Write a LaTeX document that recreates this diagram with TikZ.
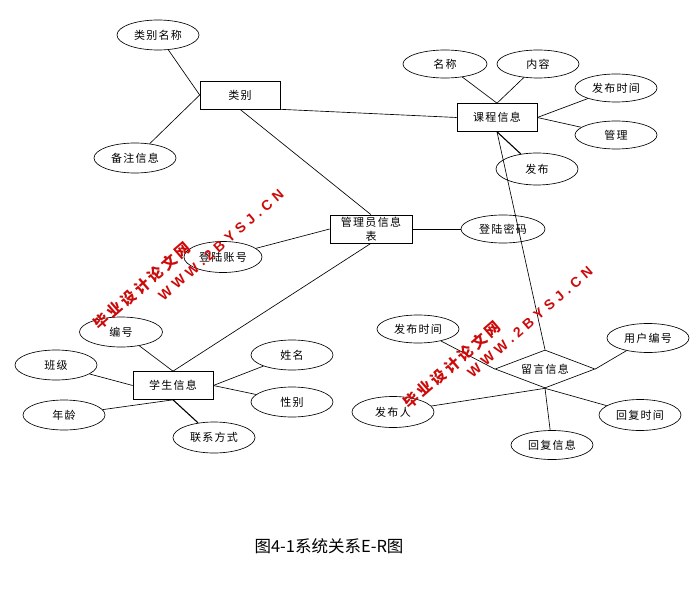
\documentclass[tikz,border=0pt]{standalone}
\usepackage{fontspec}
\setmainfont{Liberation Serif}
\newfontfamily\cjk[LetterSpace=12]{Noto Sans CJK SC}
\newfontfamily\capfont{Noto Sans CJK SC}
\newfontfamily\wmcn[LetterSpace=20]{Noto Sans CJK SC}
\newfontfamily\wmen[LetterSpace=32]{Liberation Sans}
\usetikzlibrary{shapes.geometric}
\definecolor{wmred}{RGB}{204,10,10}
\begin{document}
\begin{tikzpicture}[x=1pt,y=-1pt,line width=0.65pt,
  lbl/.style={font=\cjk\fontsize{11}{14}\selectfont},
  attr/.style={lbl,ellipse,draw,minimum width=82pt,minimum height=30pt,inner sep=0pt},
  ent/.style={lbl,rectangle,draw,minimum width=80pt,minimum height=28pt,inner sep=1pt,align=center},
  rel/.style={lbl,diamond,draw,aspect=2.6,minimum width=100pt,minimum height=38pt,inner sep=0pt},
  thick link/.style={line width=1.1pt},
  wm/.style={text=wmred,rotate=41,inner sep=0pt}]
\useasboundingbox (0,0) rectangle (698,596);
% entities
\node[ent] (lb) at (240,95) {类别};
\node[ent] (kc) at (497,117.5) {课程信息};
\node[ent,minimum width=82pt] (gl) at (371,229) {管理员信息\\表};
\node[ent] (xs) at (173,385.5) {学生信息};
\node[rel] (ly) at (545,369) {留言信息};
% attributes
\node[attr] (lbmc) at (158,35) {类别名称};
\node[attr] (bzxx) at (135,158) {备注信息};
\node[attr,minimum height=28pt,minimum width=84pt] (mc) at (445,64) {名称};
\node[attr,minimum height=28pt] (nr) at (538,64) {内容};
\node[attr,minimum height=28pt] (fbsj) at (616,88) {发布时间};
\node[attr,minimum height=28pt] (gli) at (616,135) {管理};
\node[attr,minimum height=32pt] (fb) at (537,169) {发布};
\node[attr,minimum width=84pt,minimum height=28pt] (dlmm) at (503,229) {登陆密码};
\node[attr,minimum width=78pt,minimum height=31pt] (dlzh) at (223,257) {登陆账号};
\node[attr,minimum width=83pt] (bh) at (121,332) {编号};
\node[attr] (bj) at (56,365) {班级};
\node[attr] (nl) at (64,415) {年龄};
\node[attr,minimum height=31pt] (lxfs) at (214,437.5) {联系方式};
\node[attr] (xm) at (292,355) {姓名};
\node[attr] (xb) at (292,402) {性别};
\node[attr,minimum height=28pt] (fbsj2) at (418,329) {发布时间};
\node[attr,minimum height=29pt] (yhbh) at (648,338) {用户编号};
\node[attr,minimum height=31pt] (fbr) at (393,412) {发布人};
\node[attr,minimum height=31pt] (hfsj) at (640,415) {回复时间};
\node[attr,minimum height=29pt] (hfxx) at (552,445) {回复信息};
% connectors
\draw (lbmc) -- (lb.west);
\draw (bzxx) -- (lb.west);
\draw (lb.south east) -- (kc.west);
\draw (lb.south) -- (gl.north);
\draw (mc) -- (kc.north);
\draw (nr) -- (kc.north);
\draw (fbsj) -- (kc.east);
\draw (gli) -- (kc.east);
\draw[thick link] (kc.south) -- (fb);
\draw (kc.south) -- (ly.north);
\draw (gl.east) -- (dlmm);
\draw (gl.west) -- (dlzh);
\draw (gl.south) -- (xs.north);
\draw (bh) -- (xs.north);
\draw (bj) -- (xs.west);
\draw (nl) -- (xs.south);
\draw[thick link] (lxfs) -- (xs.south);
\draw (xm) -- (xs.east);
\draw (xb) -- (xs.east);
\draw (fbsj2) -- (ly.west);
\draw (yhbh) -- (ly.east);
\draw (fbr) -- (ly.south);
\draw (hfsj) -- (ly.south);
\draw (hfxx) -- (ly.south);
% caption
\node[font=\capfont\fontsize{16.5}{19}\selectfont] (cap) at (329,546) {图4-1系统关系E-R图};
% watermarks
\node[wm,font=\wmcn\bfseries\fontsize{15}{18}\selectfont] (wm1a) at (142,286) {毕业设计论文网};
\node[wm,font=\wmen\bfseries\fontsize{14}{16}\selectfont] (wm1b) at (221,245) {WWW.2BYSJ.CN};
\node[wm,font=\wmcn\bfseries\fontsize{15}{18}\selectfont] (wm2a) at (452,365) {毕业设计论文网};
\node[wm,font=\wmen\bfseries\fontsize{14}{16}\selectfont] (wm2b) at (530,322) {WWW.2BYSJ.CN};
\end{tikzpicture}
\end{document}
